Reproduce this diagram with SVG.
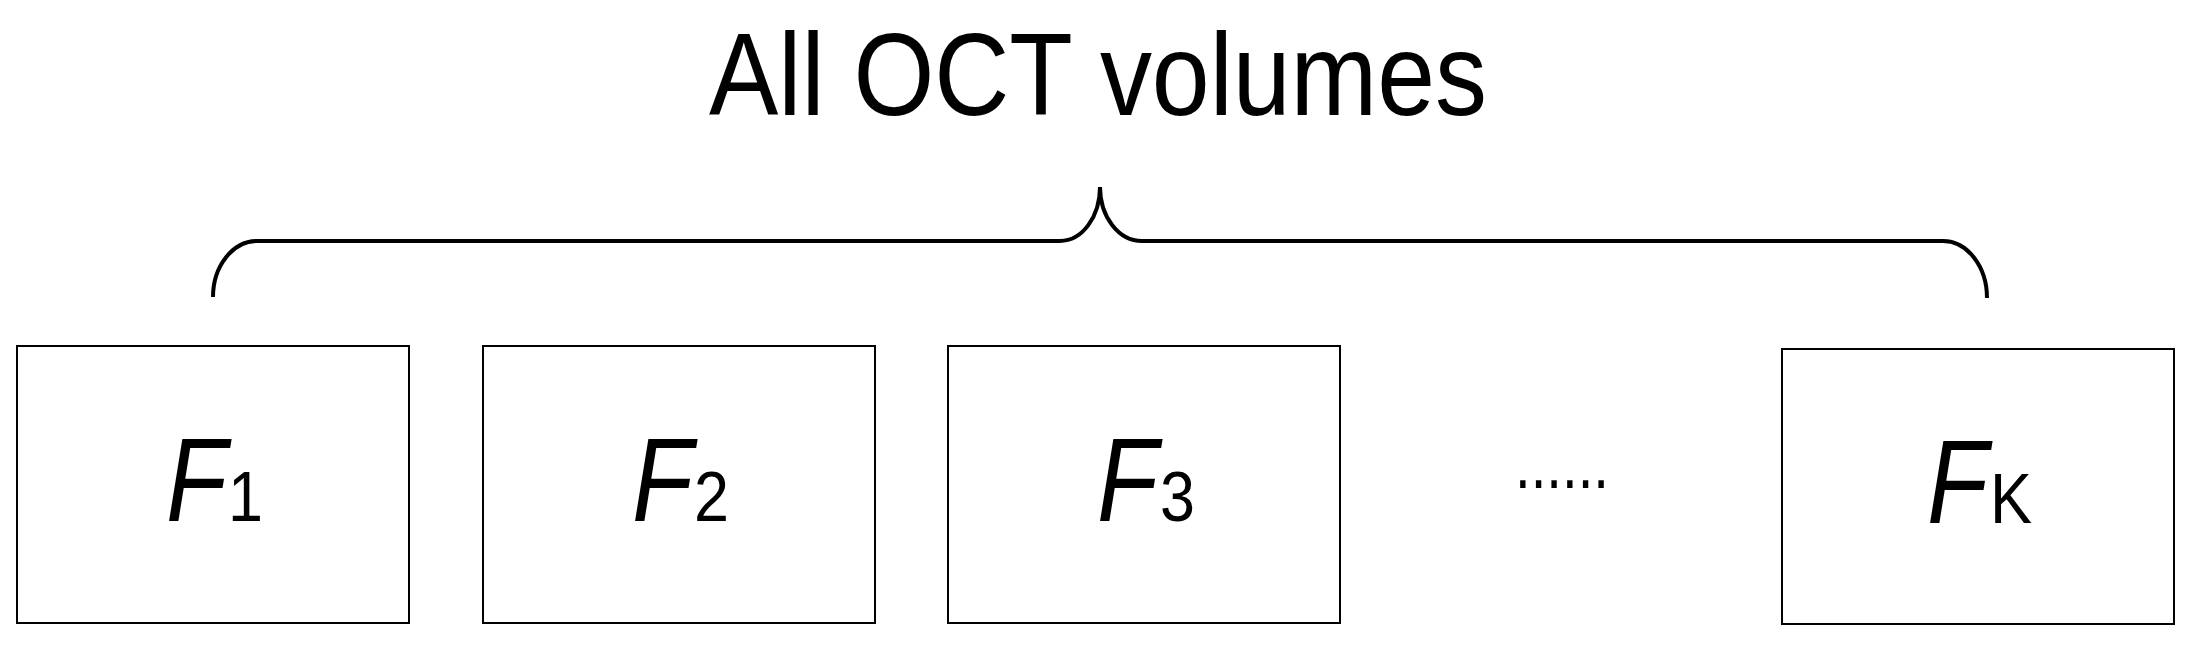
<svg xmlns="http://www.w3.org/2000/svg" width="2201" height="645" viewBox="0 0 2201 645">
<style>
.box{fill:#fff;stroke:#000;stroke-width:2}
.brace{fill:none;stroke:#000;stroke-width:4}
text{font-family:"Liberation Sans",Arial,sans-serif;fill:#000}
.f{font-style:italic;font-size:118px}
.s{font-size:71px}
</style>
<rect width="2201" height="645" fill="#fff"/>
<text x="709" y="115" font-size="116" textLength="778" lengthAdjust="spacingAndGlyphs">All OCT volumes</text>
<g id="connectors">
<path class="brace" d="M213 297 A44 56 0 0 1 257 241 L1060 241 A40 54 0 0 0 1100 187 A42 54 0 0 0 1142 241 L1943 241 A44 57 0 0 1 1987 298"/>
</g>
<g id="F1">
<rect class="box" x="17" y="346" width="392" height="277"/>
<text class="f" x="166" y="521" textLength="61" lengthAdjust="spacingAndGlyphs">F</text>
<text class="s" x="228" y="521" textLength="35" lengthAdjust="spacingAndGlyphs">1</text>
</g>
<g id="F2">
<rect class="box" x="483" y="346" width="392" height="277"/>
<text class="f" x="632" y="521" textLength="61" lengthAdjust="spacingAndGlyphs">F</text>
<text class="s" x="694" y="521" textLength="35" lengthAdjust="spacingAndGlyphs">2</text>
</g>
<g id="F3">
<rect class="box" x="948" y="346" width="392" height="277"/>
<text class="f" x="1097" y="521" textLength="61" lengthAdjust="spacingAndGlyphs">F</text>
<text class="s" x="1160" y="521" textLength="35" lengthAdjust="spacingAndGlyphs">3</text>
</g>
<g id="dots">
<text x="1515" y="488" font-size="72" textLength="94" lengthAdjust="spacingAndGlyphs">......</text>
</g>
<g id="FK">
<rect class="box" x="1782" y="349" width="392" height="275"/>
<text class="f" x="1927" y="523" textLength="61" lengthAdjust="spacingAndGlyphs">F</text>
<text class="s" x="1990" y="523" textLength="42" lengthAdjust="spacingAndGlyphs">K</text>
</g>
</svg>
